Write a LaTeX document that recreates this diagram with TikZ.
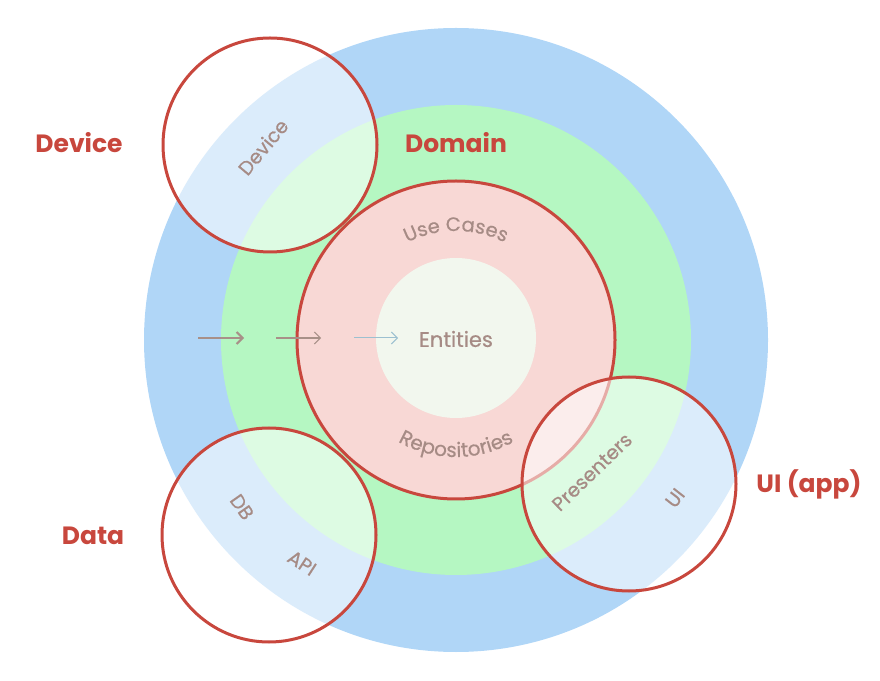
\documentclass[tikz,border=0pt]{standalone}
\usepackage{fontspec}
\setmainfont{Poppins}
\newfontfamily\medfont[FakeBold=0.5]{Poppins}
\usetikzlibrary{decorations.text,arrows.meta}
\definecolor{ublue}{HTML}{B0D6F7}
\definecolor{ugreen}{HTML}{B5F7C2}
\definecolor{upink}{HTML}{F8D8D5}
\definecolor{uinner}{HTML}{F2F7EE}
\definecolor{ured}{HTML}{C8473D}
\definecolor{utxt}{HTML}{A68B85}
\definecolor{uarrow}{HTML}{A89088}
\definecolor{uarrowb}{HTML}{9CC0D0}
\begin{document}
\begin{tikzpicture}[x=1pt,y=1pt,
  disc/.style={circle, inner sep=0pt, minimum size=#1},
  lens/.style={circle, inner sep=0pt, minimum size=214pt, fill=white, fill opacity=0.55, draw=ured, draw opacity=1, line width=3pt},
  lab/.style={text=ured, font=\fontsize{25}{25}\selectfont\bfseries},
  itxt/.style={text=utxt, font=\fontsize{19.5}{19.5}\selectfont\medfont, inner sep=0pt},
  arrA/.style={draw=uarrow, line width=2.2pt, -{Straight Barb[length=6pt,width=12pt,line width=2pt]}},
  arrB/.style={draw=uarrow, line width=1.3pt, -{Straight Barb[length=6pt,width=12pt,line width=1pt]}},
  arrC/.style={draw=uarrowb, line width=1pt, -{Straight Barb[length=6pt,width=12pt,line width=1pt]}}
]
\useasboundingbox (0,0) rectangle (880,680);
\node[disc=624pt, fill=ublue] (outer) at (456,340) {};
\node[disc=470pt, fill=ugreen] (domain) at (456,340) {};
\node[disc=318pt, fill=upink, draw=ured, line width=3pt] (usecases) at (456,340) {};
\node[disc=160pt, fill=uinner] (entities) at (456,342) {};
\node[itxt, font=\fontsize{21}{21}\selectfont\medfont] (tent) at (456,341) {Entities};

% curved labels
\path[decorate, decoration={text along path, text align=center,
  text={|\fontsize{19.5}{19.5}\selectfont\medfont\color{utxt}|Use Cases}}]
  (456,340) ++(122:109) arc[start angle=122, end angle=58, radius=109];
\path[decorate, decoration={text along path, text align=center,
  text={|\fontsize{20}{20}\selectfont\medfont\color{utxt}|Repositories}}]
  (456,340) ++(210:117) arc[start angle=210, end angle=330, radius=117];

% arrows
\coordinate (a1s) at (198,342); \coordinate (a1e) at (244,342);
\coordinate (a2s) at (276,342); \coordinate (a2e) at (321,342);
\coordinate (a3s) at (354,342); \coordinate (a3e) at (398,342);
\draw[arrA] (a1s) -- (a1e);
\draw[arrB] (a2s) -- (a2e);
\draw[arrC] (a3s) -- (a3e);

% outer lenses
\node[lens] (devc) at (270,535) {};
\node[lens] (datac) at (269,145) {};
\node[lens] (uic) at (629,196) {};

\node[itxt, rotate=50] (tdev) at (263,533) {Device};
\node[itxt, rotate=-55] (tdb) at (242,173) {DB};
\node[itxt, rotate=-33] (tapi) at (302,117) {API};
\node[itxt, rotate=44] (tpres) at (592,208) {Presenters};
\node[itxt, rotate=52] (tui) at (675,182) {UI};

% layer labels
\node[lab] (ldev) at (79,537) {Device};
\node[lab] (ldom) at (456,537) {Domain};
\node[lab] (ldata) at (93,144) {Data};
\node[lab] (lui) at (809,196) {UI (app)};
\end{tikzpicture}
\end{document}
